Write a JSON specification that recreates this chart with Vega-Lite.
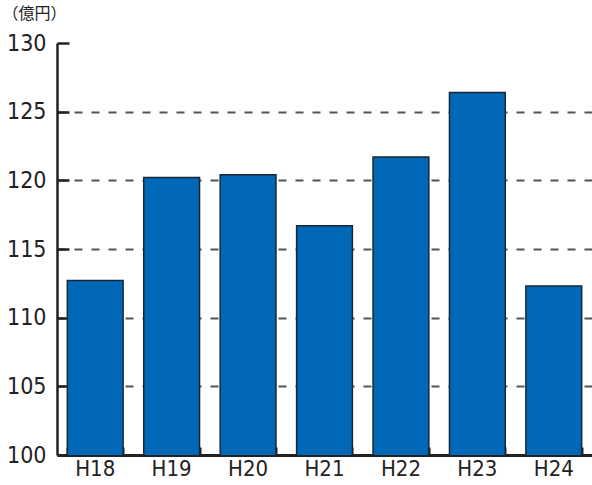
{
  "$schema": "https://vega.github.io/schema/vega-lite/v6.json",
  "width": 535,
  "height": 412,
  "autosize": {"type": "none"},
  "padding": {"left": 57, "top": 43, "right": 0, "bottom": 30},
  "background": "white",
  "config": {"view": {"stroke": null}},
  "data": {"values": [
    {"year": "H18", "value": 112.7},
    {"year": "H19", "value": 120.2},
    {"year": "H20", "value": 120.4},
    {"year": "H21", "value": 116.7},
    {"year": "H22", "value": 121.7},
    {"year": "H23", "value": 126.4},
    {"year": "H24", "value": 112.3}
  ]},
  "resolve": {"axis": {"x": "independent", "y": "independent"}},
  "layer": [
    {
      "mark": {"type": "bar", "fill": "#0068B7", "stroke": "#1a2633", "strokeWidth": 1.5, "clip": true},
      "encoding": {
        "x": {
          "field": "year", "type": "nominal", "sort": null,
          "scale": {"paddingInner": 0.27, "paddingOuter": 0.135},
          "axis": {
            "orient": "bottom",
            "title": null, "labelAngle": 0, "ticks": false,
            "domainColor": "#222", "domainWidth": 3,
            "labelFont": "DejaVu Sans Condensed, DejaVu Sans", "labelFontSize": 22, "labelColor": "#222",
            "labelPadding": 3
          }
        },
        "y": {
          "field": "value", "type": "quantitative",
          "scale": {"domain": [100, 130], "zero": false, "nice": false},
          "axis": {
            "orient": "left",
            "title": "（億円）", "titleAngle": 0, "titleAnchor": "end", "titleAlign": "left", "titleBaseline": "middle",
            "titleX": -55, "titleY": -30, "titleFont": "Noto Sans CJK JP", "titleFontSize": 16, "titleFontWeight": "normal", "titleColor": "#222",
            "values": [100, 105, 110, 115, 120, 125, 130],
            "domainColor": "#222", "domainWidth": 2.5, "ticks": false,
            "labelFont": "DejaVu Sans Condensed, DejaVu Sans", "labelFontSize": 23, "labelColor": "#222",
            "labelPadding": 11,
            "grid": true, "gridColor": "#555", "gridWidth": 2, "gridDash": [8, 9],
            "gridOpacity": {"condition": {"test": "datum.value >= 130 || datum.value <= 100", "value": 0}, "value": 1}
          }
        }
      }
    },
    {
      "mark": {"type": "bar", "opacity": 0},
      "encoding": {
        "x": {
          "field": "year", "type": "nominal", "sort": null,
          "axis": {
            "orient": "bottom",
            "title": null, "labels": false, "domain": false, "grid": false,
            "tickBand": "extent", "tickColor": "#222", "tickWidth": 2, "tickSize": 8, "offset": -8
          }
        },
        "y": {
          "field": "value", "type": "quantitative",
          "axis": {
            "orient": "left",
            "title": null, "labels": false, "domain": false, "grid": false,
            "values": [100, 105, 110, 115, 120, 125, 130],
            "tickColor": "#222", "tickWidth": 2.5, "tickSize": 12, "offset": -12
          }
        }
      }
    }
  ]
}
